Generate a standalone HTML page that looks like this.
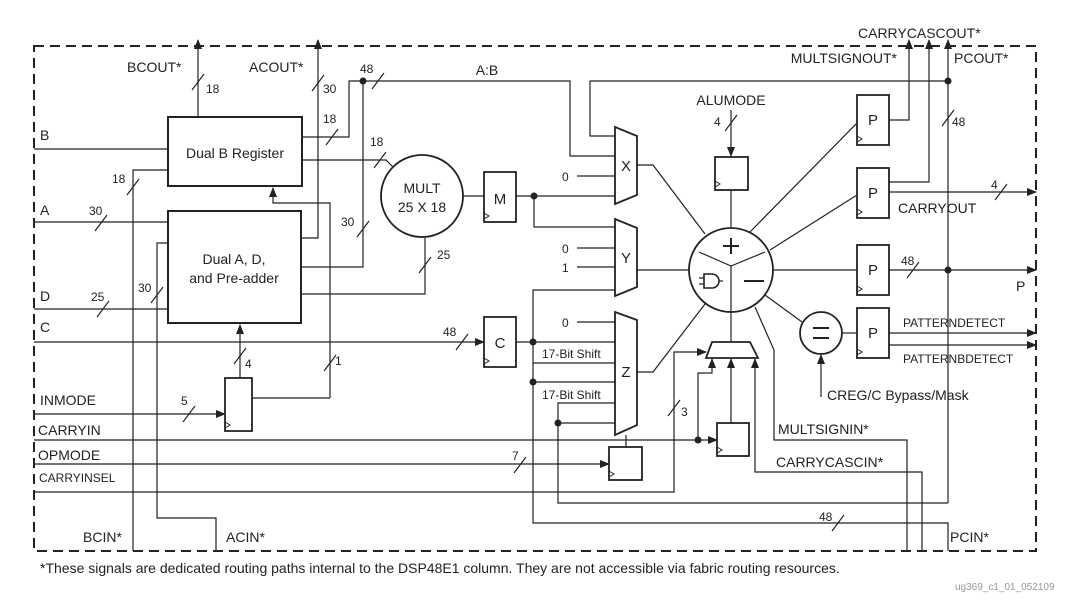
<!DOCTYPE html>
<html><head><meta charset="utf-8"><style>
html,body{margin:0;padding:0;background:#fff;}
svg{display:block;}
text{font-family:"Liberation Sans",sans-serif;fill:#222;}
</style></head><body>
<svg width="1072" height="601" viewBox="0 0 1072 601" xmlns="http://www.w3.org/2000/svg">
<defs>
<marker id="ar" markerWidth="10" markerHeight="8" refX="9" refY="4" orient="auto" markerUnits="userSpaceOnUse">
<path d="M0,0 L10,4 L0,8 z" fill="#222"/></marker>
</defs>
<g stroke="#222" fill="none" stroke-width="1.2">
<rect x="34" y="46" width="1002" height="505" stroke-width="2" stroke-dasharray="10,6"/>
<line x1="198" y1="117" x2="198" y2="40" marker-end="url(#ar)"/>
<polyline points="301,238 318,238 318,40" marker-end="url(#ar)"/>
<rect x="168" y="117" width="134" height="69" stroke-width="2"/>
<line x1="34" y1="149" x2="168" y2="149"/>
<polyline points="302,137 349,137 349,81 570,81 570,156 615,156"/>
<polyline points="302,160 386,160 393,167"/>
<polyline points="133,551 133,170 168,170"/>
<rect x="168" y="211" width="133" height="112" stroke-width="2"/>
<line x1="34" y1="222" x2="168" y2="222"/>
<line x1="34" y1="309" x2="168" y2="309"/>
<polyline points="216,551 216,518 157,518 157,243 168,243"/>
<polyline points="301,267 363,267 363,81"/>
<polyline points="301,294 425,294 425,238"/>
<polyline points="330,398 330,203 273,203 273,188" marker-end="url(#ar)"/>
<circle cx="422" cy="196" r="41" stroke-width="1.8"/>
<line x1="463" y1="196" x2="484" y2="196"/>
<rect x="484" y="172" width="32" height="50" stroke-width="1.8"/>
<polyline points="516,196 615,196"/>
<polyline points="534,196 534,227 615,227"/>
<line x1="34" y1="342" x2="484" y2="342" marker-end="url(#ar)"/>
<rect x="484" y="317" width="32" height="50" stroke-width="1.8"/>
<line x1="516" y1="342" x2="615" y2="342"/>
<rect x="225" y="378" width="27" height="53" stroke-width="1.8"/>
<line x1="34" y1="414" x2="225" y2="414" marker-end="url(#ar)"/>
<line x1="240" y1="378" x2="240" y2="325" marker-end="url(#ar)"/>
<line x1="252" y1="398" x2="330" y2="398"/>
<line x1="34" y1="440" x2="717" y2="440" marker-end="url(#ar)"/>
<line x1="34" y1="464" x2="609" y2="464" marker-end="url(#ar)"/>
<polyline points="34,492 674,492 674,352 706,352" marker-end="url(#ar)"/>
<polyline points="698,440 698,373 712,373 712,359" marker-end="url(#ar)"/>
<polygon points="615,127 637,136 637,195 615,204" stroke-width="1.8"/>
<polygon points="615,219 637,228 637,287 615,296" stroke-width="1.8"/>
<polygon points="615,312 637,320 637,425 615,435" stroke-width="1.8"/>
<polyline points="590,81 948,81"/>
<polyline points="590,81 590,136 615,136"/>
<line x1="577" y1="176" x2="615" y2="176"/>
<line x1="577" y1="248" x2="615" y2="248"/>
<line x1="577" y1="267" x2="615" y2="267"/>
<line x1="577" y1="322" x2="615" y2="322"/>
<polyline points="615,290 533,290 533,523 948,523 948,551"/>
<line x1="533" y1="363" x2="615" y2="363"/>
<line x1="533" y1="382" x2="615" y2="382"/>
<polyline points="615,403 558,403 558,503 948,503"/>
<line x1="558" y1="423" x2="615" y2="423"/>
<rect x="609" y="447" width="33" height="33" stroke-width="1.8"/>
<line x1="626" y1="435" x2="626" y2="447"/>
<polyline points="637,165 653,165 705,234"/>
<line x1="637" y1="270" x2="689" y2="270"/>
<polyline points="637,372 653,372 705,304"/>
<circle cx="731" cy="270" r="42" stroke-width="1.8"/>
<polyline points="699,252 731,266 765,252"/>
<line x1="731" y1="266" x2="731" y2="312"/>
<line x1="731" y1="110" x2="731" y2="156" marker-end="url(#ar)"/>
<rect x="715" y="157" width="33" height="33" stroke-width="1.8"/>
<line x1="731" y1="190" x2="731" y2="228"/>
<polygon points="712,342 750,342 758,358 706,358" stroke-width="1.8"/>
<line x1="731" y1="342" x2="731" y2="312"/>
<rect x="717" y="423" width="32" height="33" stroke-width="1.8"/>
<line x1="731" y1="423" x2="731" y2="359" marker-end="url(#ar)"/>
<polyline points="922,551 922,472 755,472 755,359" marker-end="url(#ar)"/>
<polyline points="907,551 907,440 774,440 774,350 755,307"/>
<line x1="750" y1="232" x2="857" y2="123"/>
<line x1="770" y1="250" x2="857" y2="195"/>
<line x1="773" y1="270" x2="857" y2="270"/>
<rect x="857" y="95" width="32" height="50" stroke-width="1.8"/>
<rect x="857" y="168" width="32" height="50" stroke-width="1.8"/>
<rect x="857" y="245" width="32" height="50" stroke-width="1.8"/>
<rect x="857" y="308" width="32" height="50" stroke-width="1.8"/>
<polyline points="889,120 909,120 909,40" marker-end="url(#ar)"/>
<polyline points="889,182 929,182 929,40" marker-end="url(#ar)"/>
<line x1="948" y1="503" x2="948" y2="40" marker-end="url(#ar)"/>
<line x1="889" y1="192" x2="1036" y2="192" marker-end="url(#ar)"/>
<line x1="889" y1="270" x2="1036" y2="270" marker-end="url(#ar)"/>
<line x1="889" y1="333" x2="1036" y2="333" marker-end="url(#ar)"/>
<line x1="889" y1="345" x2="1036" y2="345" marker-end="url(#ar)"/>
<line x1="765" y1="295" x2="802" y2="322"/>
<circle cx="821" cy="333" r="21" stroke-width="1.8"/>
<line x1="842" y1="333" x2="857" y2="333"/>
<line x1="821" y1="397" x2="821" y2="355" marker-end="url(#ar)"/>
<g>
<line x1="192" y1="90" x2="204" y2="74"/><line x1="312" y1="91" x2="324" y2="75"/>
<line x1="326" y1="145" x2="338" y2="129"/><line x1="372" y1="89" x2="384" y2="73"/>
<line x1="374" y1="168" x2="386" y2="152"/><line x1="127" y1="195" x2="139" y2="179"/>
<line x1="95" y1="231" x2="107" y2="215"/><line x1="151" y1="303" x2="163" y2="287"/>
<line x1="357" y1="237" x2="369" y2="221"/><line x1="419" y1="273" x2="431" y2="257"/>
<line x1="97" y1="317" x2="109" y2="301"/><line x1="456" y1="350" x2="468" y2="334"/>
<line x1="234" y1="364" x2="246" y2="348"/><line x1="324" y1="371" x2="336" y2="355"/>
<line x1="183" y1="422" x2="195" y2="406"/><line x1="514" y1="473" x2="526" y2="457"/>
<line x1="668" y1="416" x2="680" y2="400"/><line x1="832" y1="531" x2="844" y2="515"/>
<line x1="725" y1="131" x2="737" y2="115"/><line x1="942" y1="126" x2="954" y2="110"/>
<line x1="995" y1="200" x2="1007" y2="184"/><line x1="907" y1="278" x2="919" y2="262"/>
</g>
<g stroke-width="1">
<polyline points="484,213 489,216 484,219"/><polyline points="484,358 489,361 484,364"/>
<polyline points="225,422 230,425 225,428"/><polyline points="609,471 614,474 609,477"/>
<polyline points="715,181 720,184 715,187"/><polyline points="717,447 722,450 717,453"/>
<polyline points="857,136 862,139 857,142"/><polyline points="857,209 862,212 857,215"/>
<polyline points="857,286 862,289 857,292"/><polyline points="857,349 862,352 857,355"/>
</g>
<path d="M704,274 h8 a7,7 0 0 1 0,14 h-8 z" stroke-width="1.6"/>
<line x1="699" y1="278" x2="704" y2="278"/><line x1="699" y1="284" x2="704" y2="284"/>
<line x1="719" y1="281" x2="723" y2="281"/>
<line x1="744" y1="281" x2="764" y2="281" stroke-width="2"/>
<line x1="731" y1="238" x2="731" y2="254" stroke-width="2"/><line x1="723" y1="246" x2="739" y2="246" stroke-width="2"/>
<line x1="813" y1="328" x2="829" y2="328" stroke-width="2"/><line x1="813" y1="338" x2="829" y2="338" stroke-width="2"/>
</g>
<g fill="#222">
<circle cx="363" cy="81" r="3.5"/><circle cx="534" cy="196" r="3.5"/><circle cx="533" cy="342" r="3.5"/>
<circle cx="533" cy="382" r="3.5"/><circle cx="558" cy="423" r="3.5"/><circle cx="698" cy="440" r="3.5"/>
<circle cx="948" cy="81" r="3.5"/><circle cx="948" cy="270" r="3.5"/>
</g>
<g font-size="14">
<text x="127" y="72">BCOUT*</text><text x="249" y="72">ACOUT*</text>
<text x="40" y="140">B</text><text x="40" y="215">A</text><text x="40" y="301">D</text><text x="40" y="332">C</text>
<text x="40" y="405">INMODE</text><text x="38" y="435">CARRYIN</text><text x="38" y="460">OPMODE</text>
<text x="83" y="542">BCIN*</text><text x="226" y="542">ACIN*</text>
<text x="487" y="75" text-anchor="middle">A:B</text>
<text x="235" y="158" text-anchor="middle">Dual B Register</text>
<text x="234" y="264" text-anchor="middle">Dual A, D,</text>
<text x="234" y="283" text-anchor="middle">and Pre-adder</text>
<text x="422" y="193" text-anchor="middle">MULT</text><text x="422" y="212" text-anchor="middle">25 X 18</text>
<text x="500" y="204" text-anchor="middle" font-size="15">M</text>
<text x="500" y="348" text-anchor="middle" font-size="15">C</text>
<text x="626" y="171" text-anchor="middle" font-size="15">X</text>
<text x="626" y="263" text-anchor="middle" font-size="15">Y</text>
<text x="626" y="377" text-anchor="middle" font-size="15">Z</text>
<text x="873" y="125" text-anchor="middle" font-size="15">P</text>
<text x="873" y="198" text-anchor="middle" font-size="15">P</text>
<text x="873" y="275" text-anchor="middle" font-size="15">P</text>
<text x="873" y="338" text-anchor="middle" font-size="15">P</text>
<text x="731" y="105" text-anchor="middle">ALUMODE</text>
<text x="858" y="38">CARRYCASCOUT*</text>
<text x="897" y="63" text-anchor="end">MULTSIGNOUT*</text>
<text x="954" y="63">PCOUT*</text>
<text x="898" y="213">CARRYOUT</text>
<text x="1016" y="291">P</text>
<text x="827" y="400">CREG/C Bypass/Mask</text>
<text x="778" y="434">MULTSIGNIN*</text>
<text x="776" y="467">CARRYCASCIN*</text>
<text x="950" y="542">PCIN*</text>
</g>
<g font-size="12">
<text x="206" y="93">18</text><text x="323" y="93">30</text><text x="323" y="123">18</text>
<text x="360" y="73">48</text><text x="370" y="146">18</text><text x="112" y="183">18</text>
<text x="89" y="215">30</text><text x="138" y="292">30</text><text x="341" y="226">30</text>
<text x="437" y="259">25</text><text x="91" y="301">25</text><text x="443" y="336">48</text>
<text x="245" y="368">4</text><text x="335" y="365">1</text><text x="181" y="405">5</text>
<text x="512" y="460">7</text><text x="681" y="416">3</text><text x="819" y="521">48</text>
<text x="714" y="126">4</text><text x="952" y="126">48</text><text x="991" y="189">4</text>
<text x="901" y="265">48</text>
<text x="562" y="181">0</text><text x="562" y="253">0</text><text x="562" y="272">1</text><text x="562" y="327">0</text>
<text x="542" y="358">17-Bit Shift</text><text x="542" y="399">17-Bit Shift</text>
<text x="39" y="482">CARRYINSEL</text>
<text x="903" y="327">PATTERNDETECT</text><text x="903" y="363">PATTERNBDETECT</text>
<text x="40" y="573" font-size="14">*These signals are dedicated routing paths internal to the DSP48E1 column. They are not accessible via fabric routing resources.</text>
<text x="955" y="590" font-size="10" style="fill:#999">ug369_c1_01_052109</text>
</g>
</svg>
</body></html>
